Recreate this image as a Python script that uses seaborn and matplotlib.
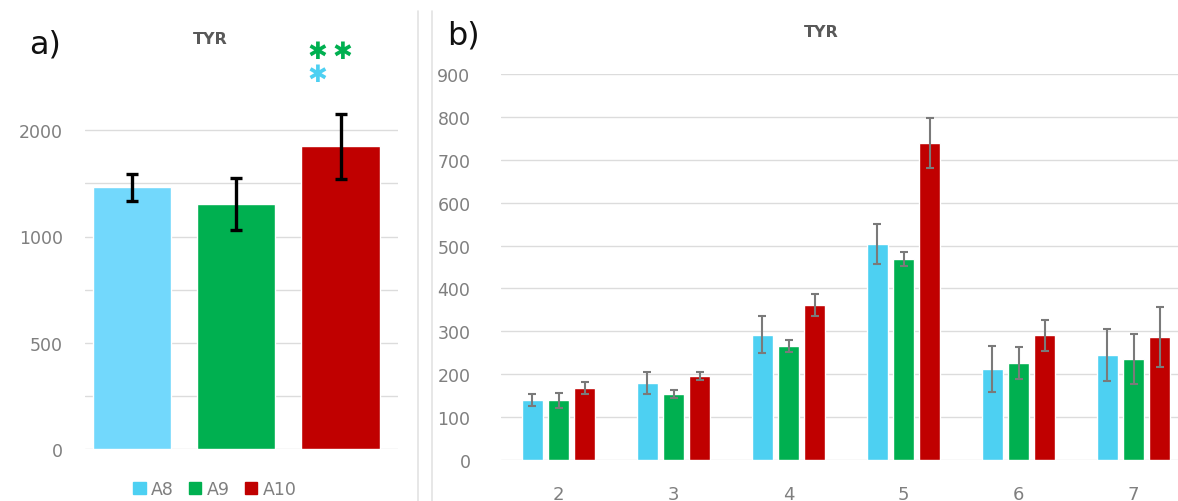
import matplotlib
matplotlib.use("Agg")
import matplotlib.pyplot as plt
import matplotlib.lines as mlines
import matplotlib.patches as mpatches
import numpy as np
import pandas as pd
import seaborn as sns

# ---- data ----
groups = ["A8", "A9", "A10"]
totals = [1232, 1152, 1425]
totals_err = [63, 122, 153]

timepoints = ["2", "3", "4", "5", "6", "7"]
a8_vals = [140, 180, 292, 504, 212, 245]
a9_vals = [139, 154, 266, 469, 226, 236]
a10_vals = [168, 196, 361, 739, 291, 287]
a8_err = [15, 25, 43, 46, 54, 60]
a9_err = [17, 10, 14, 17, 38, 58]
a10_err = [14, 10, 26, 58, 36, 70]

ticks_a = [0, 500, 1000, 1500]
ticklabels_a = ["0", "500", "1000", "2000"]
ticks_b = list(range(0, 1000, 100))

# ---- styling ----
sns.set_theme(style="white")
plt.rcParams["font.family"] = ["DejaVu Sans"]

pal_a = {"A8": "#72D8FC", "A9": "#00B050", "A10": "#C00000"}
pal_b = {"A8": "#4DD0F2", "A9": "#00B050", "A10": "#C00000"}
grid_c = "#DCDCDC"
tick_c = "#7F7F7F"

W, H = 1178, 502
fig = plt.figure(figsize=(W / 100, H / 100), dpi=100)


def px_axes(x0, x1, ytop, ybot):
    return fig.add_axes([x0 / W, 1 - ybot / H, (x1 - x0) / W, (ybot - ytop) / H])


# ---- panel a ----
ax1 = px_axes(85, 398, 25, 450)
df_a = pd.DataFrame({"group": groups, "value": totals})
sns.barplot(data=df_a, x="group", y="value", hue="group", palette=pal_a,
            width=0.75, legend=False, ax=ax1, errorbar=None, saturation=1)
for cont, err in zip(ax1.containers, totals_err):
    for bar in cont:
        ax1.errorbar(bar.get_x() + bar.get_width() / 2, bar.get_height(), yerr=err,
                     color="black", lw=2.4, capsize=4, capthick=2.4, zorder=5)
ax1.set_ylim(0, 2000)
ax1.set_xlim(-0.45, 2.55)
for y in np.arange(0, 1501, 250):
    ax1.axhline(y, color=grid_c, lw=1, zorder=0)
ax1.set_yticks(ticks_a)
ax1.set_yticklabels(ticklabels_a, color=tick_c, fontsize=12.5)
ax1.tick_params(axis="y", length=0, pad=16)
ax1.set_xticks([])
ax1.set_xlabel("")
ax1.set_ylabel("")
for s in ax1.spines.values():
    s.set_visible(False)

# significance marks above A10
for xs in (1.78, 2.02):
    ax1.text(xs, 1871, "✱", color="#00B050", fontsize=17, ha="center", va="center")
ax1.text(1.78, 1763, "✱", color="#4DD0F2", fontsize=17, ha="center", va="center")

handles = [mpatches.Patch(color=pal_b[g], label=g) for g in groups]
fig.legend(handles=handles, loc="center", bbox_to_anchor=(215 / W, 1 - 490 / H),
           ncol=3, frameon=False, fontsize=12.5, handlelength=0.7, handleheight=0.7,
           handletextpad=0.3, columnspacing=0.9, labelcolor=tick_c)

fig.text(45 / W, 1 - 45 / H, "a)", fontsize=23, ha="center", va="center", color="#111111")
fig.text(210 / W, 1 - 40 / H, "TYR", fontsize=11.5, fontweight="bold", ha="center",
         va="center", color="#595959")

# ---- panel b ----
ax2 = px_axes(501, 1191, 75, 461)
df_b = pd.DataFrame({
    "time": timepoints * 3,
    "group": ["A8"] * 6 + ["A9"] * 6 + ["A10"] * 6,
    "value": a8_vals + a9_vals + a10_vals,
})
sns.barplot(data=df_b, x="time", y="value", hue="group", palette=pal_b,
            width=0.68, gap=0.2, ax=ax2, errorbar=None, saturation=1, legend=False)
errs = [a8_err, a9_err, a10_err]
for cont, errlist in zip(ax2.containers, errs):
    for bar, err in zip(cont, errlist):
        ax2.errorbar(bar.get_x() + bar.get_width() / 2, bar.get_height(), yerr=err,
                     color="#7A7A7A", lw=1.5, capsize=3, capthick=1.5, zorder=5)
ax2.set_ylim(0, 900)
ax2.set_xlim(-0.5, 5.5)
ax2.set_yticks(ticks_b)
ax2.yaxis.grid(True, color=grid_c, lw=1)
ax2.set_axisbelow(True)
ax2.tick_params(axis="y", length=0, pad=22, labelcolor=tick_c, labelsize=12.5)
ax2.tick_params(axis="x", length=0, pad=18, labelcolor=tick_c, labelsize=13)
ax2.set_xlabel("")
ax2.set_ylabel("")
for s in ax2.spines.values():
    s.set_visible(False)

fig.text(463 / W, 1 - 36 / H, "b)", fontsize=23, ha="center", va="center", color="#111111")
fig.text(821 / W, 1 - 33 / H, "TYR", fontsize=11.5, fontweight="bold", ha="center",
         va="center", color="#595959")

# panel separators
for xp in (418, 432):
    fig.add_artist(mlines.Line2D([xp / W, xp / W], [0, 1 - 12 / H], color="#E3E3E3", lw=1.2))

fig.savefig("out.png", dpi=100, facecolor="white")
